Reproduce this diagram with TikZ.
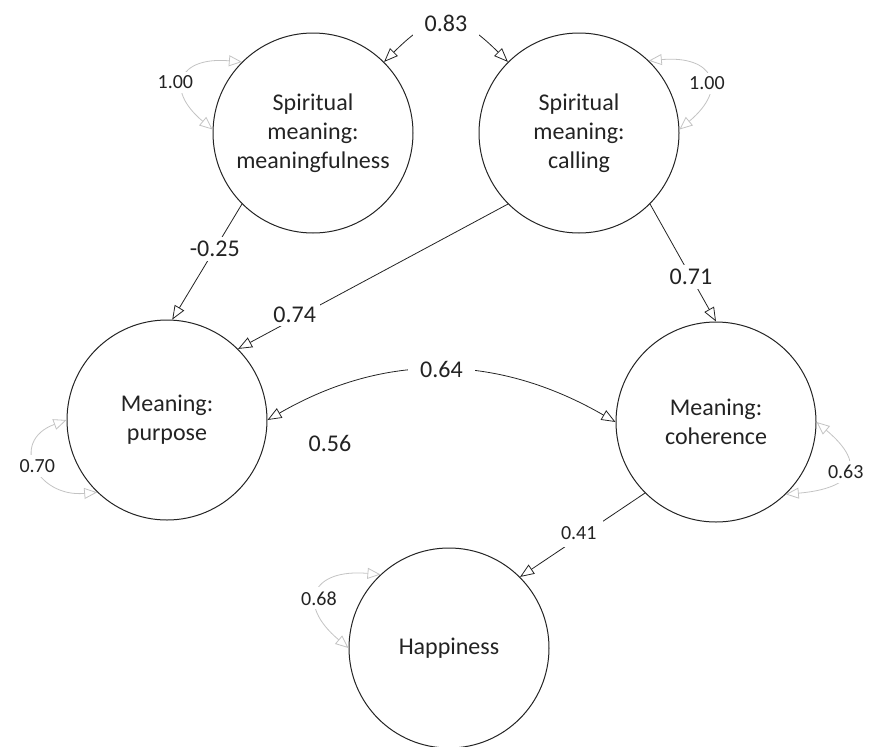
\documentclass[tikz,border=0pt]{standalone}
\usepackage{fontspec}
\setmainfont{Carlito}
\definecolor{inkgray}{RGB}{35,35,35}
\definecolor{loopgray}{RGB}{195,195,195}
\usepackage{tikz}
\usetikzlibrary{arrows.meta,positioning}

\begin{document}
\begin{tikzpicture}[x=1pt,y=1pt,
      lv/.style={circle,draw=inkgray,line width=1pt,minimum size=200pt,inner sep=0pt,
                 align=center,font=\fontsize{24}{29}\selectfont,text=inkgray},
      ar/.style={-{Triangle[open,length=14pt,width=11pt]},draw=inkgray,line width=0.8pt},
      bi/.style={{Triangle[open,length=14pt,width=11pt]}-{Triangle[open,length=14pt,width=11pt]},
                 draw=inkgray,line width=0.8pt},
      rs/.style={{Triangle[open,length=13pt,width=11pt]}-{Triangle[open,length=13pt,width=11pt]},
                 draw=loopgray,line width=0.8pt},
      lb/.style={fill=white,inner sep=4pt,font=\fontsize{24}{29}\selectfont,text=inkgray},
      sl/.style={fill=white,inner sep=4pt,font=\fontsize{20}{24}\selectfont,text=inkgray}]
      \useasboundingbox (0,0) rectangle (873,-747);
      % latent variables
      \node[lv] (ms) at (313,-133) {Spiritual\\meaning:\\meaningfulness};
      \node[lv] (cl) at (579,-133) {Spiritual\\meaning:\\calling};
      \node[lv] (pu) at (167,-420) {Meaning:\\purpose};
      \node[lv] (co) at (716,-422) {Meaning:\\coherence};
      \node[lv] (ha) at (449,-648) {Happiness};
      \node[lb] (r56) at (330,-443) {0.56};
      % paths
      \draw[ar] (ms.225) -- node[lb,pos=.39] (e1) {-0.25} (pu.87);
      \draw[ar] (cl.225) -- node[lb,pos=.79,yshift=4pt] (e2) {0.74} (pu.45);
      \draw[ar] (cl.-45) -- node[lb,pos=.62] (e3) {0.71} (co.90);
      \draw[ar] (co.225) -- node[sl,pos=.53,yshift=4pt,inner sep=7pt] (e4) {0.41} (ha.45);
      % covariances
      \draw[bi] (ms.45) to[out=45,in=135,looseness=1.5] node[lb,inner xsep=12pt] (c1) {0.83} (cl.135);
      \draw[bi] (pu.0) to[out=30,in=150] node[lb,inner xsep=12pt] (c2) {0.64} (co.180);
      % residual variances
      \draw[rs] (ms.135) to[out=175,in=140,looseness=2.2] node[sl,xshift=-10pt,yshift=-4pt] (v1) {1.00} (ms.178);
      \draw[rs] (cl.46) to[out=5,in=40,looseness=2.2] node[sl,yshift=-6pt] (v2) {1.00} (cl.2);
      \draw[rs] (pu.180) to[out=200,in=185,looseness=2] node[sl] (v3) {0.70} (pu.226);
      \draw[rs] (co.0) to[out=-40,in=5,looseness=2.2] node[sl] (v4) {0.63} (co.314);
      \draw[rs] (ha.133) to[out=175,in=140,looseness=2.2] node[sl,yshift=-6pt] (v5) {0.68} (ha.180);
\end{tikzpicture}
\end{document}
